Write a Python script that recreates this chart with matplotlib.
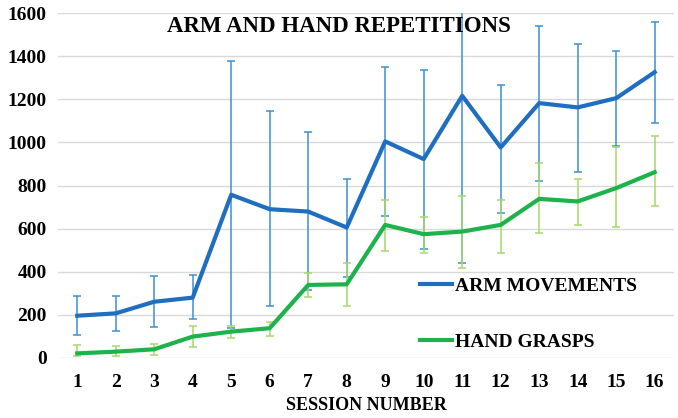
import numpy as np
import matplotlib
matplotlib.use('Agg')
import matplotlib.pyplot as plt

plt.rcParams['font.family'] = ['Liberation Serif', 'DejaVu Serif']
plt.rcParams['font.weight'] = 'bold'

sessions = np.arange(1, 17)

arm_mean = [195, 206, 260, 279, 757, 690, 679, 605, 1005, 923, 1217, 977, 1183, 1163, 1206, 1327]
arm_low = [104, 126, 143, 181, 140, 240, 315, 377, 659, 504, 439, 674, 822, 865, 986, 1090]
arm_high = [288, 288, 379, 383, 1377, 1147, 1048, 830, 1349, 1338, 1700, 1265, 1543, 1460, 1427, 1558]

hand_mean = [20, 28, 39, 98, 121, 137, 338, 341, 617, 574, 586, 617, 738, 726, 788, 862]
hand_low = [10, 8, 13, 50, 93, 100, 284, 240, 498, 486, 416, 488, 579, 616, 605, 707]
hand_high = [59, 54, 64, 147, 147, 166, 395, 439, 733, 656, 752, 733, 904, 831, 981, 1031]

arm_err = [np.subtract(arm_mean, arm_low), np.subtract(arm_high, arm_mean)]
hand_err = [np.subtract(hand_mean, hand_low), np.subtract(hand_high, hand_mean)]

fig = plt.figure(figsize=(6.78, 4.18), dpi=100)
ax = fig.add_axes([0.0855, 0.1443, 0.9085, 0.8237])

# error bars first, lines on top
ax.errorbar(sessions, arm_mean, yerr=arm_err, fmt='none', ecolor='#3d8fd4',
            elinewidth=1.1, capsize=3, capthick=1.1, zorder=2)
ax.errorbar(sessions, hand_mean, yerr=hand_err, fmt='none', ecolor='#a6d96a',
            elinewidth=1.1, capsize=3, capthick=1.1, zorder=2)
ax.plot(sessions, arm_mean, color='#1f6ec0', linewidth=3, label='ARM MOVEMENTS', zorder=3)
ax.plot(sessions, hand_mean, color='#1db24b', linewidth=3, label='HAND GRASPS', zorder=3)

ax.set_xlim(0.5, 16.5)
ax.set_ylim(0, 1600)
ax.set_yticks(np.arange(0, 1601, 200))
ax.set_xticks(sessions)
ax.grid(axis='y', color='#d9d9d9', linewidth=1)
ax.set_axisbelow(True)
for s in ax.spines.values():
    s.set_visible(False)
ax.tick_params(length=0, labelsize=14, pad=8)
ax.tick_params(axis='x', pad=12)

ax.set_xlabel('SESSION NUMBER', fontsize=13, fontweight='bold', labelpad=4)
ax.text(0.456, 0.961, 'ARM AND HAND REPETITIONS', transform=ax.transAxes,
        ha='center', va='center', fontsize=16.5, fontweight='bold')

leg = ax.legend(loc='lower left', bbox_to_anchor=(0.56, -0.03), frameon=False,
                fontsize=14, handlelength=1.6, handletextpad=0.2, labelspacing=1.95)
for t in leg.get_texts():
    t.set_fontweight('bold')

fig.savefig('out.png', dpi=100)
